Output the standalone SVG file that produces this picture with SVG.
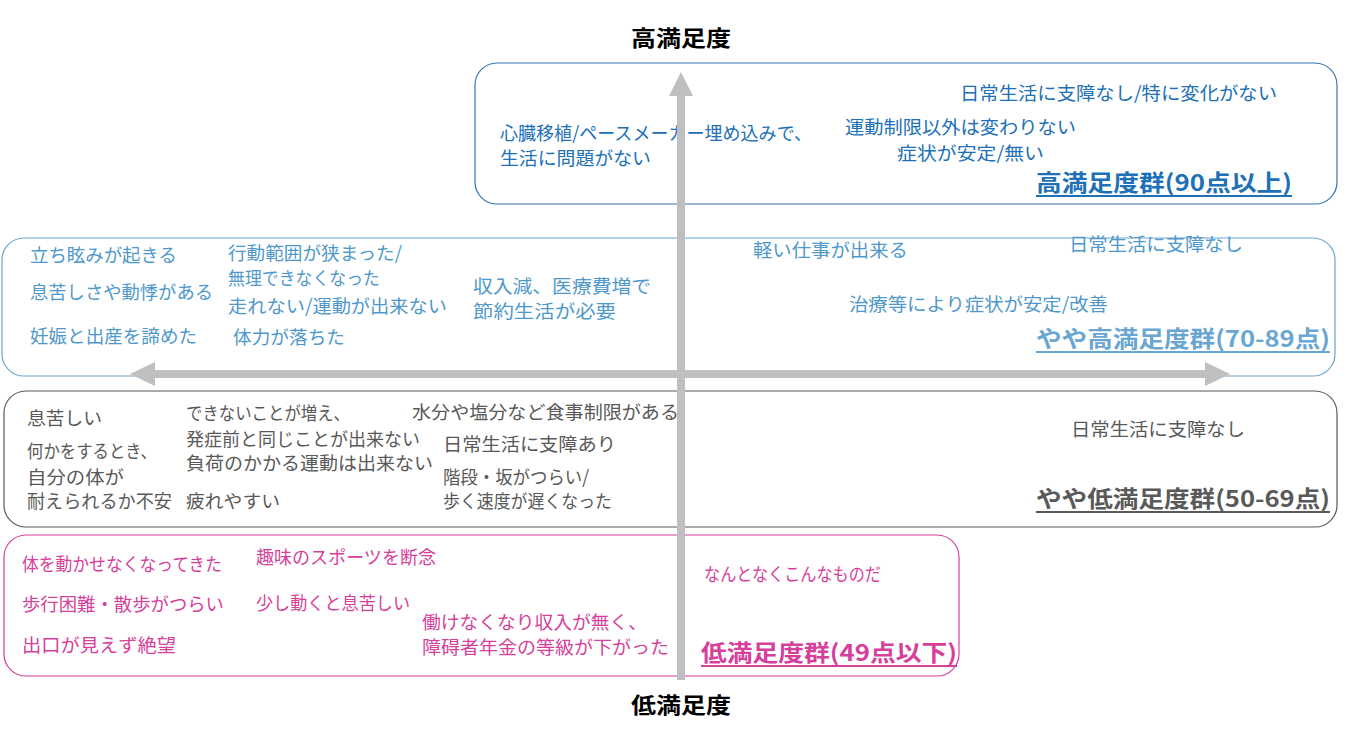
<svg xmlns="http://www.w3.org/2000/svg" width="1348" height="733" viewBox="0 0 1348 733">
<style>
text{font-family:"Noto Sans CJK JP","Noto Sans",sans-serif;font-size:18.5px;}
.box{fill:#ffffff;stroke-width:1.2;}
.t1{fill:#2070b8;}
.t2{fill:#4f98cc;}
.t3{fill:#595959;}
.t4{fill:#d63f9b;}
.ttl{font-weight:bold;font-size:22.5px;}
.ax{font-weight:bold;font-size:22px;fill:#000;}
.axis{fill:#bfbfbf;}
</style>
<rect width="1348" height="733" fill="#ffffff"/>
<g id="high">
<rect class="box" x="475" y="63" width="862" height="141" rx="22" stroke="#2e75b6"/>
<text class="t1" x="960" y="100" textLength="317" lengthAdjust="spacingAndGlyphs">日常生活に支障なし/特に変化がない</text>
<text class="t1" x="500" y="140" textLength="312" lengthAdjust="spacingAndGlyphs">心臓移植/ペースメーカー埋め込みで、</text>
<text class="t1" x="500" y="165" textLength="151" lengthAdjust="spacingAndGlyphs">生活に問題がない</text>
<text class="t1" x="845" y="134" textLength="231" lengthAdjust="spacingAndGlyphs">運動制限以外は変わりない</text>
<text class="t1" x="897" y="160" textLength="147" lengthAdjust="spacingAndGlyphs">症状が安定/無い</text>
<text class="t1 ttl" x="1036" y="191" textLength="256" lengthAdjust="spacingAndGlyphs">高満足度群(90点以上)</text>
<line x1="1036" y1="196" x2="1292" y2="196" stroke="#2070b8" stroke-width="2"/>
</g>
<g id="mid-high">
<rect class="box" x="2" y="238" width="1333" height="138" rx="22" stroke="#6aa5d0"/>
<text class="t2" x="30" y="262" textLength="147" lengthAdjust="spacingAndGlyphs">立ち眩みが起きる</text>
<text class="t2" x="228" y="260" textLength="174" lengthAdjust="spacingAndGlyphs">行動範囲が狭まった/</text>
<text class="t2" x="228" y="285" textLength="152" lengthAdjust="spacingAndGlyphs">無理できなくなった</text>
<text class="t2" x="30" y="299" textLength="183" lengthAdjust="spacingAndGlyphs">息苦しさや動悸がある</text>
<text class="t2" x="228" y="313" textLength="219" lengthAdjust="spacingAndGlyphs">走れない/運動が出来ない</text>
<text class="t2" x="473" y="293" textLength="178" lengthAdjust="spacingAndGlyphs">収入減、医療費増で</text>
<text class="t2" x="473" y="318" textLength="143" lengthAdjust="spacingAndGlyphs">節約生活が必要</text>
<text class="t2" x="30" y="343" textLength="167" lengthAdjust="spacingAndGlyphs">妊娠と出産を諦めた</text>
<text class="t2" x="233" y="344" textLength="112" lengthAdjust="spacingAndGlyphs">体力が落ちた</text>
<text class="t2" x="753" y="257" textLength="155" lengthAdjust="spacingAndGlyphs">軽い仕事が出来る</text>
<text class="t2" x="1069" y="251" textLength="174" lengthAdjust="spacingAndGlyphs">日常生活に支障なし</text>
<text class="t2" x="849" y="311" textLength="259" lengthAdjust="spacingAndGlyphs">治療等により症状が安定/改善</text>
<text class="ttl" x="1036" y="347" fill="#6aa6d2" textLength="294" lengthAdjust="spacingAndGlyphs">やや高満足度群(70-89点)</text>
<line x1="1036" y1="352" x2="1330" y2="352" stroke="#6aa6d2" stroke-width="2"/>
</g>
<g id="mid-low">
<rect class="box" x="4" y="391" width="1333" height="136" rx="22" stroke="#595959"/>
<text class="t3" x="27" y="425" textLength="75" lengthAdjust="spacingAndGlyphs">息苦しい</text>
<text class="t3" x="186" y="420" textLength="164" lengthAdjust="spacingAndGlyphs">できないことが増え、</text>
<text class="t3" x="412" y="419" textLength="267" lengthAdjust="spacingAndGlyphs">水分や塩分など食事制限がある</text>
<text class="t3" x="27" y="458" textLength="130" lengthAdjust="spacingAndGlyphs">何かをするとき、</text>
<text class="t3" x="186" y="446" textLength="234" lengthAdjust="spacingAndGlyphs">発症前と同じことが出来ない</text>
<text class="t3" x="443" y="451" textLength="173" lengthAdjust="spacingAndGlyphs">日常生活に支障あり</text>
<text class="t3" x="27" y="484" textLength="97" lengthAdjust="spacingAndGlyphs">自分の体が</text>
<text class="t3" x="186" y="470" textLength="247" lengthAdjust="spacingAndGlyphs">負荷のかかる運動は出来ない</text>
<text class="t3" x="443" y="484" textLength="146" lengthAdjust="spacingAndGlyphs">階段・坂がつらい/</text>
<text class="t3" x="27" y="508" textLength="145" lengthAdjust="spacingAndGlyphs">耐えられるか不安</text>
<text class="t3" x="186" y="508" textLength="94" lengthAdjust="spacingAndGlyphs">疲れやすい</text>
<text class="t3" x="443" y="508" textLength="169" lengthAdjust="spacingAndGlyphs">歩く速度が遅くなった</text>
<text class="t3" x="1071" y="436" textLength="174" lengthAdjust="spacingAndGlyphs">日常生活に支障なし</text>
<text class="t3 ttl" x="1036" y="507" textLength="294" lengthAdjust="spacingAndGlyphs">やや低満足度群(50-69点)</text>
<line x1="1036" y1="512" x2="1330" y2="512" stroke="#595959" stroke-width="2"/>
</g>
<g id="low">
<rect class="box" x="4" y="535" width="955" height="141" rx="22" stroke="#d63f9b"/>
<text class="t4" x="22" y="571" textLength="200" lengthAdjust="spacingAndGlyphs">体を動かせなくなってきた</text>
<text class="t4" x="256" y="564" textLength="180" lengthAdjust="spacingAndGlyphs">趣味のスポーツを断念</text>
<text class="t4" x="22" y="611" textLength="202" lengthAdjust="spacingAndGlyphs">歩行困難・散歩がつらい</text>
<text class="t4" x="256" y="610" textLength="154" lengthAdjust="spacingAndGlyphs">少し動くと息苦しい</text>
<text class="t4" x="422" y="629" textLength="225" lengthAdjust="spacingAndGlyphs">働けなくなり収入が無く、</text>
<text class="t4" x="22" y="652" textLength="154" lengthAdjust="spacingAndGlyphs">出口が見えず絶望</text>
<text class="t4" x="422" y="654" textLength="247" lengthAdjust="spacingAndGlyphs">障碍者年金の等級が下がった</text>
<text class="t4" x="704" y="581" textLength="177" lengthAdjust="spacingAndGlyphs">なんとなくこんなものだ</text>
<text class="t4 ttl" x="701" y="661" textLength="256" lengthAdjust="spacingAndGlyphs">低満足度群(49点以下)</text>
<line x1="701" y1="666" x2="957" y2="666" stroke="#d63f9b" stroke-width="2"/>
</g>
<g id="connectors">
<rect class="axis" x="677" y="94" width="8" height="586"/>
<polygon class="axis" points="669,96 693,96 681,72"/>
<rect class="axis" x="154" y="370" width="1052" height="8"/>
<polygon class="axis" points="155,362 155,386 130,374"/>
<polygon class="axis" points="1205,362 1205,386 1230,374"/>
</g>
<g id="axis-labels">
<text class="ax" x="681" y="46" text-anchor="middle" textLength="100" lengthAdjust="spacingAndGlyphs">高満足度</text>
<text class="ax" x="681" y="713" text-anchor="middle" textLength="100" lengthAdjust="spacingAndGlyphs">低満足度</text>
</g>
</svg>
